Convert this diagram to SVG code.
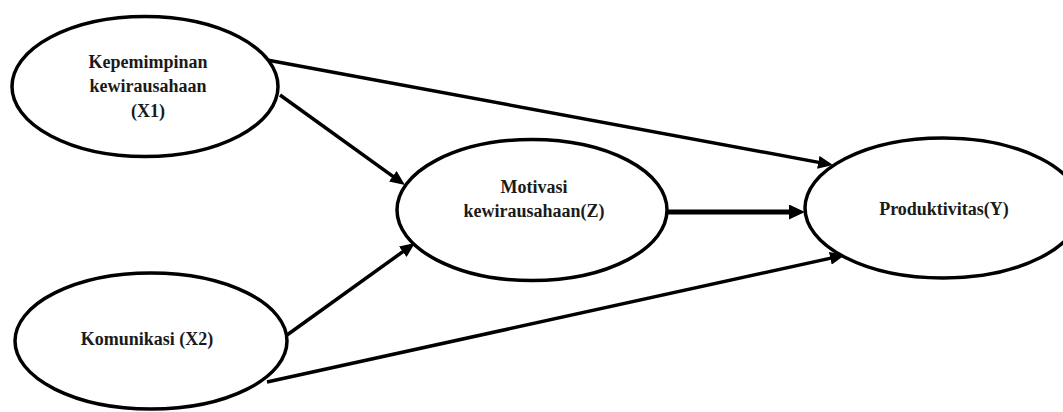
<svg xmlns="http://www.w3.org/2000/svg" width="1063" height="412" viewBox="0 0 1063 412">
<style>
.node ellipse{fill:#fff;stroke:#000;stroke-width:3.5}
.node text{font-family:"Liberation Serif","Times New Roman",serif;font-weight:bold;font-size:18px;fill:#1a1a1a;text-anchor:middle}
.edge{stroke:#000;stroke-width:3.5;fill:none}
.thick{stroke-width:5}
</style>
<defs>
<marker id="ah" viewBox="0 0 15 13" refX="10" refY="6.5" markerWidth="15" markerHeight="13" markerUnits="userSpaceOnUse" orient="auto">
<path d="M0,0 L15,6.5 L0,13 z" fill="#000"/>
</marker>
<marker id="ahb" viewBox="0 0 16 15" refX="10" refY="7.5" markerWidth="16" markerHeight="15" markerUnits="userSpaceOnUse" orient="auto">
<path d="M0,0 L16,7.5 L0,15 z" fill="#000"/>
</marker>
</defs>
<rect width="1063" height="412" fill="#fff"/>
<g id="connectors">
<line class="edge" x1="267" y1="60" x2="828.1" y2="164.1" marker-end="url(#ah)"/>
<line class="edge" x1="280" y1="95" x2="400.9" y2="182.1" marker-end="url(#ah)"/>
<line class="edge" x1="287" y1="335" x2="410.9" y2="245.9" marker-end="url(#ah)"/>
<line class="edge" x1="267" y1="382" x2="840.1" y2="256.1" marker-end="url(#ah)"/>
<line class="edge thick" x1="667" y1="212" x2="799" y2="212" marker-end="url(#ahb)"/>
</g>
<g id="node-x1" class="node">
<ellipse cx="145" cy="86.5" rx="133" ry="70"/>
<text x="148" y="68">Kepemimpinan</text>
<text x="148" y="92">kewirausahaan</text>
<text x="148" y="117">(X1)</text>
</g>
<g id="node-x2" class="node">
<ellipse cx="151" cy="341" rx="136" ry="68"/>
<text x="147" y="345">Komunikasi (X2)</text>
</g>
<g id="node-z" class="node">
<ellipse cx="532" cy="210" rx="135" ry="70.5"/>
<text x="534" y="193">Motivasi</text>
<text x="534" y="217">kewirausahaan(Z)</text>
</g>
<g id="node-y" class="node">
<ellipse cx="943" cy="208" rx="138" ry="70"/>
<text x="944" y="215">Produktivitas(Y)</text>
</g>
</svg>
